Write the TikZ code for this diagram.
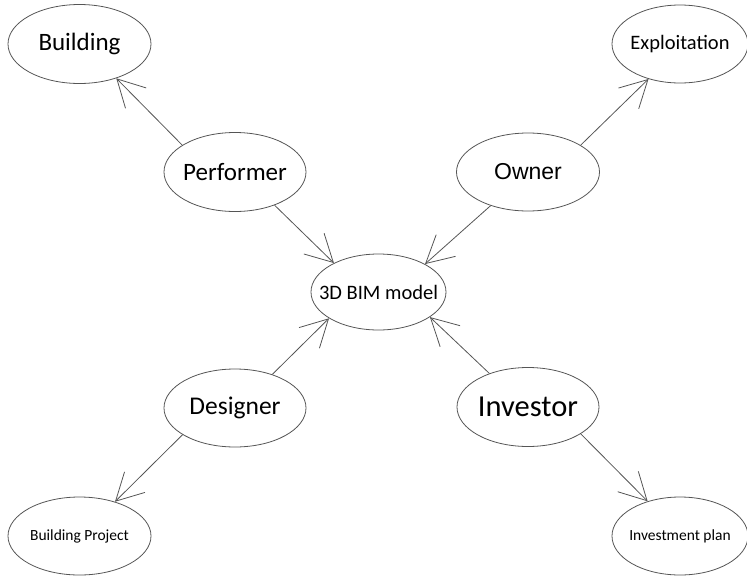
\documentclass[tikz,border=0pt]{standalone}
\usepackage{fontspec}
\setmainfont{Carlito}
\newfontfamily\arialfont{Liberation Sans}
\usetikzlibrary{shapes.geometric,arrows.meta}
\definecolor{linegray}{RGB}{85,85,85}
\tikzset{
  bub/.style={ellipse,draw=linegray,line width=0.8pt,inner xsep=-30pt,inner ysep=-12pt,text=black},
  conn/.style={draw=linegray,line width=0.8pt,-{Straight Barb[length=27pt,width=29pt,line width=0.8pt]}}
}
\begin{document}
\begin{tikzpicture}[x=1pt,y=-1pt]
\useasboundingbox (0,0) rectangle (747,576);
\node[bub,minimum width=143pt,minimum height=79pt] (bldg) at (79.5,44) {\fontsize{25}{28}\selectfont Building};
\node[bub,minimum width=136pt,minimum height=78pt] (expl) at (680,44) {\fontsize{20.5}{24}\selectfont Exploitation};
\node[bub,minimum width=142pt,minimum height=79pt] (perf) at (235,172) {\fontsize{25}{28}\selectfont Performer};
\node[bub,minimum width=143pt,minimum height=78pt] (owner) at (528,172) {\arialfont\fontsize{23}{26}\selectfont Owner};
\node[bub,minimum width=135pt,minimum height=76pt] (bim) at (378.5,292) {\fontsize{20.5}{24}\selectfont 3D BIM model};
\node[bub,minimum width=142pt,minimum height=78pt] (des) at (235,408) {\fontsize{25.5}{28}\selectfont Designer};
\node[bub,minimum width=142pt,minimum height=79pt] (inv) at (528,407) {\fontsize{30.5}{34}\selectfont Investor};
\node[bub,minimum width=143pt,minimum height=78pt] (bp) at (79.5,536) {\fontsize{15.5}{18}\selectfont Building Project};
\node[bub,minimum width=136pt,minimum height=78pt] (ip) at (680,536) {\fontsize{15.5}{18}\selectfont Investment plan};
\path[conn] (perf.153) -- (bldg.-43);
\path[conn] (perf.-40) -- (bim.147);
\path[conn] (owner.27) -- (expl.228);
\path[conn] (owner.222) -- (bim.31);
\path[conn] (des.42) -- (bim.208);
\path[conn] (des.207) -- (bp.44);
\path[conn] (inv.139) -- (bim.-26);
\path[conn] (inv.-27) -- (ip.133);
\end{tikzpicture}
\end{document}
